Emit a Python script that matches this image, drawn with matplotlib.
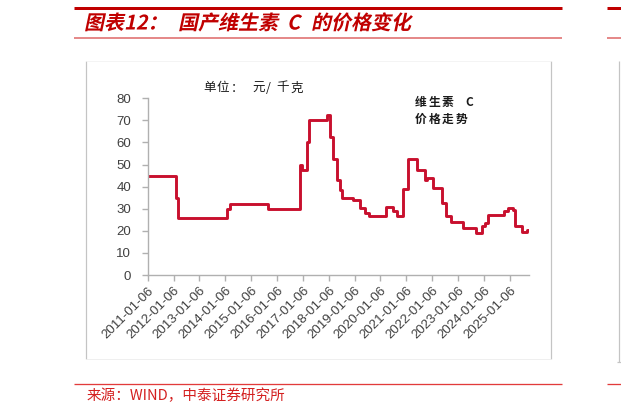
import pandas as pd
import matplotlib
matplotlib.use("Agg")
import matplotlib.pyplot as plt
import matplotlib.dates as mdates
from matplotlib.lines import Line2D
from matplotlib.textpath import TextPath
from matplotlib.font_manager import FontProperties
from matplotlib.patches import PathPatch
from matplotlib.transforms import Affine2D

plt.rcParams['font.family'] = ['Liberation Sans', 'Noto Sans CJK SC']

# step start dates and price (yuan/kg)
dates = [
    "2011-01-06", "2012-02-03", "2012-03-10", "2014-01-26", "2014-03-10",
    "2015-09-05", "2016-11-25", "2016-12-25", "2017-03-08", "2017-04-05",
    "2017-12-06", "2018-01-22", "2018-03-10", "2018-04-27", "2018-06-13",
    "2018-07-05", "2018-12-16", "2019-03-20", "2019-06-01", "2019-07-31",
    "2020-03-20", "2020-06-27", "2020-08-22", "2020-11-24", "2021-01-26",
    "2021-06-03", "2021-09-27", "2021-10-20", "2022-01-22", "2022-05-30",
    "2022-07-20", "2022-09-24", "2023-03-22", "2023-09-12", "2023-12-06",
    "2024-01-22", "2024-03-10", "2024-10-16", "2024-12-10", "2025-02-17",
    "2025-03-25", "2025-06-24", "2025-09-09", "2025-10-08",
]
prices = [
    45, 35, 26, 30, 32,
    30, 50, 47.5, 60, 70,
    72.5, 62.5, 52.5, 43, 38.5,
    35, 34, 30.5, 28, 26.5,
    31, 29, 26.5, 39, 52.5,
    47.5, 43, 44, 39.5, 32.5,
    26.5, 24, 21.5, 19, 22,
    23.5, 27, 29, 30.5, 29.5,
    22, 19.5, 20.5, 20.5,
]
tick_dates = [f"{y}-01-06" for y in range(2011, 2026)]
y_ticks = [0, 10, 20, 30, 40, 50, 60, 70, 80]

W, H = 621, 415
fig = plt.figure(figsize=(W / 100, H / 100), dpi=100)


def fx(x):
    return x / W


def fy(y):
    return 1 - y / H


def hline(x0, x1, y, color, lw):
    fig.add_artist(Line2D([fx(x0), fx(x1)], [fy(y), fy(y)], transform=fig.transFigure,
                          color=color, lw=lw * 0.72, solid_capstyle='butt'))


def vline(x, y0, y1, color, lw):
    fig.add_artist(Line2D([fx(x), fx(x)], [fy(y0), fy(y1)], transform=fig.transFigure,
                          color=color, lw=lw * 0.72, solid_capstyle='butt'))


def spaced(chars, xs, y, **kw):
    # letter-spaced CJK text, one glyph per position (pixel coords)
    for ch, x in zip(chars, xs):
        fig.text(fx(x), fy(y), ch, ha='left', va='center',
                 family=['Noto Sans CJK SC'], color='#1A1A1A', **kw)


# header / footer rules
for x0, x1 in [(74, 562), (607, 621)]:
    hline(x0, x1, 8.5, '#C00000', 3)
    hline(x0, x1, 37.7, '#E58A8A', 2)
    hline(x0, x1, 384.3, '#E23B3B', 1.3)

# chart frame
vline(85.7, 60.7, 359.3, '#C4C4C4', 1.2)
vline(551.3, 60.7, 359.3, '#C4C4C4', 1.2)
hline(85.7, 551.3, 359.3, '#EFEFEF', 1)
hline(85.7, 551.3, 60.7, '#F4F4F4', 1)
vline(618.7, 60.7, 362, '#C4C4C4', 1.2)
hline(617, 621, 362, '#C4C4C4', 1.2)

# italic bold title drawn as skewed text paths, piece by piece
fp = FontProperties(family='Noto Sans CJK SC', weight='bold')
title_parts = [(84, "图表12："), (178, "国产维生素"), (287, "C"), (311, "的价格变化")]
for x0, part in title_parts:
    tp = TextPath((0, 0), part, size=20, prop=fp)
    tr = Affine2D().skew_deg(12, 0).translate(x0, H - 29.5)
    fig.add_artist(PathPatch(tp, transform=tr, facecolor='#C00000', edgecolor='none'))

fig.text(fx(87), fy(396), "来源：WIND，中泰证券研究所", color='#D42020',
         fontsize=10.5, va='center', ha='left', family=['Noto Sans CJK SC'])

# axes
ax = fig.add_axes([fx(147.7), fy(275), fx(529.3) - fx(147.7), fy(98.3) - fy(275)])
d = pd.to_datetime(dates)
ax.plot(d, prices, drawstyle='steps-post', color='#C8102E', lw=2.1)

ax.set_ylim(0, 80)
ax.set_yticks(y_ticks)
ax.set_xlim(pd.Timestamp("2011-01-06"), pd.Timestamp("2025-10-08"))
ax.set_xticks(pd.to_datetime(tick_dates))
ax.xaxis.set_major_formatter(mdates.DateFormatter("%Y-%m-%d"))
plt.setp(ax.get_xticklabels(), rotation=45, ha='right', rotation_mode='anchor')

for s in ['top', 'right']:
    ax.spines[s].set_visible(False)
for s in ['left', 'bottom']:
    ax.spines[s].set_color('#B0B0B0')
    ax.spines[s].set_linewidth(1.0)
ax.tick_params(axis='both', colors='#B0B0B0', labelcolor='#404040', labelsize=9.5,
               length=4, width=1.0)
ax.tick_params(axis='y', pad=8)
ax.tick_params(axis='x', pad=3)

spaced("单位：元/千克", [203.5, 217, 230.5, 252, 266, 276.5, 290], 88, fontsize=9)
spaced("维生素C", [415, 428.5, 442, 465], 102, fontsize=8.5, weight='bold')
spaced("价格走势", [415, 428.5, 442, 455.5], 119.5, fontsize=8.5, weight='bold')

fig.savefig("out.png", dpi=100)
